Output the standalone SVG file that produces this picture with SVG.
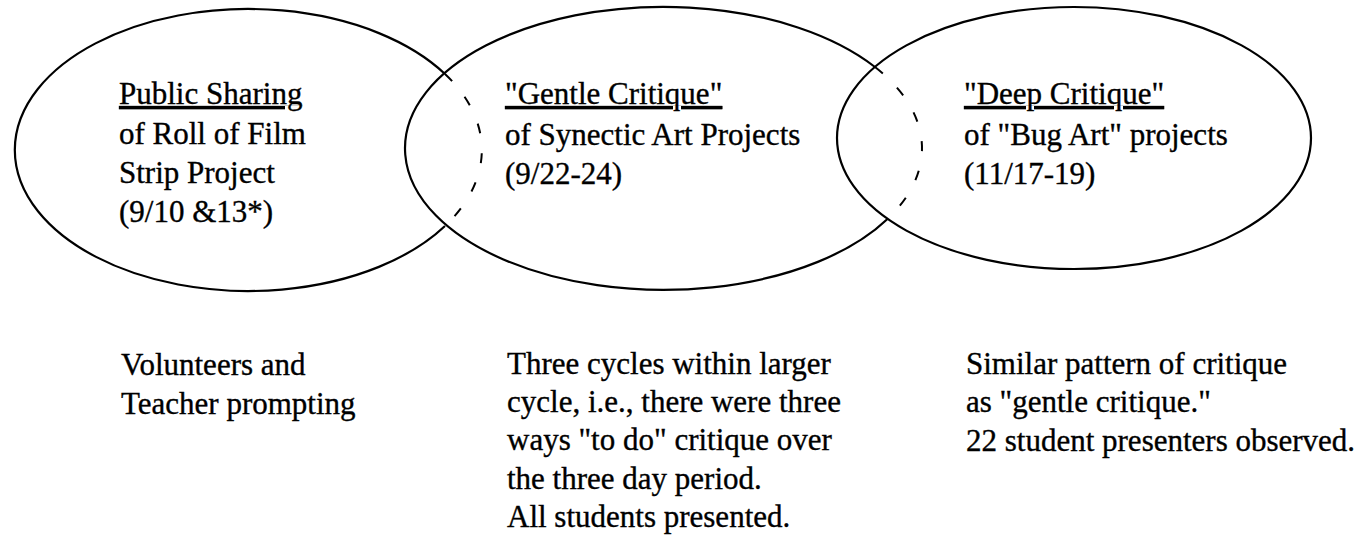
<svg xmlns="http://www.w3.org/2000/svg" width="1366" height="540" viewBox="0 0 1366 540">
  <style>
    .outline { fill: none; stroke: #000; stroke-width: 2.2; }
    .hidden { fill: none; stroke: #000; stroke-width: 2; stroke-dasharray: 10 20; }
    text { font-family: "Liberation Serif", "Times New Roman", serif; font-size: 31px; fill: #000; stroke: #000; stroke-width: 0.35; }
    .title { text-decoration: underline; }
  </style>
  <rect width="1366" height="540" fill="#fff"/>

  <!-- Three overlapping phases; each arc hidden behind its neighbour is dashed -->
  <g id="phase-sharing">
    <path class="outline" d="M 445 74 A 233.5 141 0 1 0 445 226"/>
    <path class="hidden" d="M 445 74 A 233.5 141 0 0 1 445 226"/>
    <text x="119" y="104"><tspan class="title">Public Sharing</tspan></text>
    <text x="119" y="144">of Roll of Film</text>
    <text x="119" y="183">Strip Project</text>
    <text x="119" y="222">(9/10 &amp;13*)</text>
  </g>

  <g id="phase-gentle">
    <path class="outline" d="M 875 67 A 258.5 141.5 0 1 0 887.5 219"/>
    <path class="hidden" d="M 875 67 A 258.5 141.5 0 0 1 887.5 219"/>
    <text x="505" y="104"><tspan class="title">"Gentle Critique"</tspan></text>
    <text x="505" y="145">of Synectic Art Projects</text>
    <text x="505" y="184">(9/22-24)</text>
  </g>

  <g id="phase-deep">
    <ellipse class="outline" cx="1074" cy="138" rx="237" ry="131"/>
    <text x="964" y="104"><tspan class="title">"Deep Critique"</tspan></text>
    <text x="964" y="145">of "Bug Art" projects</text>
    <text x="964" y="184">(11/17-19)</text>
  </g>

  <g id="connectors"/>

  <!-- Notes under each phase -->
  <g id="note-sharing">
    <text x="121" y="375">Volunteers and</text>
    <text x="121" y="414">Teacher prompting</text>
  </g>
  <g id="note-gentle">
    <text x="507" y="374">Three cycles within larger</text>
    <text x="507" y="412">cycle, i.e., there were three</text>
    <text x="507" y="450">ways "to do" critique over</text>
    <text x="507" y="489">the three day period.</text>
    <text x="507" y="527">All students presented.</text>
  </g>
  <g id="note-deep">
    <text x="966" y="374">Similar pattern of critique</text>
    <text x="966" y="412">as "gentle critique."</text>
    <text x="966" y="451">22 student presenters observed.</text>
  </g>
</svg>
